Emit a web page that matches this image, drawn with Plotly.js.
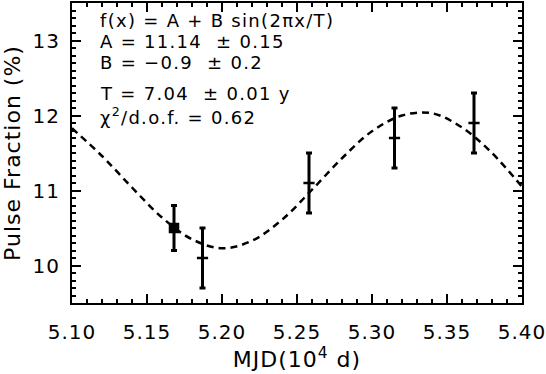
<!DOCTYPE html>
<html>
<head>
<meta charset="utf-8">
<script src="https://cdn.plot.ly/plotly-3.0.1.min.js"></script>
<style>
  html, body { margin: 0; padding: 0; background: #fff; }
  #plot { width: 546px; height: 374px; }
  /* the original IDL lettering is spaced wider than DejaVu */
  #plot svg text { letter-spacing: 1px; }
  #plot svg text.annotation-text { letter-spacing: 1.3px; }
</style>
</head>
<body>
<div id="plot"></div>
<script>
// --- Measured pulse fractions (MJD in units of 10^4 d) ---
const mjd = [5.168, 5.187, 5.258, 5.315, 5.368];
const pulseFrac = [10.5, 10.1, 11.1, 11.7, 11.9];
const pulseErr = [0.3, 0.4, 0.4, 0.4, 0.4];
const markerSymbols = ["square", "line-ew", "line-ew", "line-ew", "line-ew"];

// --- Fitted sine curve ---
const fitMjd = [5.10, 5.12, 5.14, 5.16, 5.18, 5.20, 5.22, 5.24, 5.26,
                5.28, 5.30, 5.32, 5.34, 5.36, 5.38, 5.40];
const fitFrac = [11.83, 11.46, 11.04, 10.64, 10.35, 10.23, 10.33, 10.61, 11.01,
                 11.43, 11.79, 12.00, 12.03, 11.84, 11.50, 11.05];

// --- Fit parameters box ---
const fitText = [
  "f(x) = A + B sin(2πx/T)",
  "A = 11.14  ± 0.15",
  "B = −0.9  ± 0.2",
  "T = 7.04  ± 0.01 y",
  "χ<sup>2</sup>/d.o.f. = 0.62"
];
const fitTextY = [0.943, 0.873, 0.800, 0.697, 0.623];

const font = "DejaVu Sans, sans-serif";

const traces = [
  {
    type: "scatter",
    x: fitMjd, y: fitFrac,
    mode: "lines",
    line: { color: "#000", width: 2.5, dash: "7px,5px", shape: "spline", smoothing: 1 },
    hoverinfo: "skip"
  },
  {
    type: "scatter",
    x: mjd, y: pulseFrac,
    mode: "markers",
    marker: {
      symbol: markerSymbols,
      size: 8,
      color: "#000",
      line: { color: "#000", width: 2.5 }
    },
    error_y: { type: "data", array: pulseErr, visible: true, color: "#000", thickness: 3, width: 3 }
  }
];

const axisCommon = {
  showgrid: false,
  zeroline: false,
  showline: true,
  linecolor: "#000",
  linewidth: 2,
  mirror: "allticks",
  ticks: "inside",
  ticklen: 9,
  tickwidth: 2,
  tickcolor: "#000",
  tickfont: { family: font, size: 20, color: "#000" }
};

const layout = {
  width: 546,
  height: 374,
  margin: { l: 72, r: 24, t: 3, b: 71 },
  paper_bgcolor: "#fff",
  plot_bgcolor: "#fff",
  showlegend: false,
  xaxis: Object.assign({}, axisCommon, {
    range: [5.10, 5.40],
    dtick: 0.05,
    tick0: 5.10,
    tickformat: ".2f",
    ticklabelstandoff: 10,
    minor: { dtick: 0.01, ticks: "inside", ticklen: 4, tickwidth: 2, tickcolor: "#000" },
    title: { text: "MJD(10<sup>4</sup> d)", font: { family: font, size: 22, color: "#000" }, standoff: 6 }
  }),
  yaxis: Object.assign({}, axisCommon, {
    range: [9.5, 13.5],
    dtick: 1,
    tick0: 10,
    ticklabelstandoff: 6,
    minor: { dtick: 0.1, ticks: "inside", ticklen: 4, tickwidth: 2, tickcolor: "#000" },
    title: { text: "Pulse Fraction (%)", font: { family: font, size: 22, color: "#000" }, standoff: 10 }
  }),
  annotations: fitText.map((t, i) => ({
    text: t,
    xref: "paper", yref: "paper",
    x: 0.058, y: fitTextY[i],
    xanchor: "left", yanchor: "middle",
    align: "left",
    showarrow: false,
    font: { family: font, size: 18, color: "#000" }
  }))
};

Plotly.newPlot("plot", traces, layout, { displayModeBar: false, staticPlot: true });
</script>
</body>
</html>
